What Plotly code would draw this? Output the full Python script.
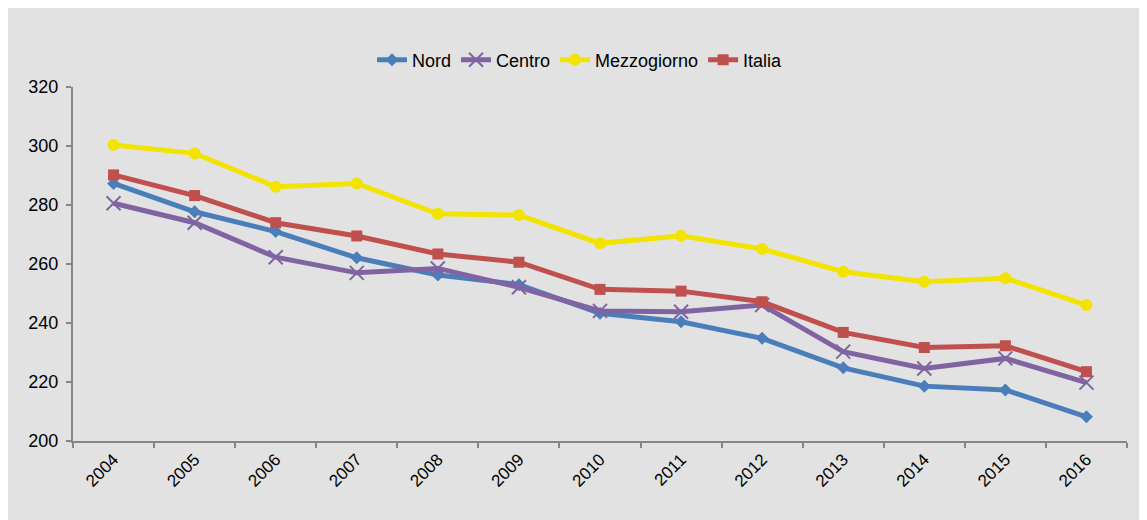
import plotly.graph_objects as go

years = ["2004", "2005", "2006", "2007", "2008", "2009", "2010",
         "2011", "2012", "2013", "2014", "2015", "2016"]
nord = [287.3, 277.7, 271.0, 262.1, 256.3, 253.0, 243.3, 240.4, 234.8, 224.8, 218.6, 217.3, 208.2]
centro = [280.6, 274.0, 262.3, 257.0, 258.5, 252.1, 244.1, 243.8, 246.1, 230.3, 224.6, 228.0, 219.8]
mezzogiorno = [300.3, 297.5, 286.2, 287.3, 277.0, 276.6, 267.0, 269.6, 265.1, 257.4, 254.0, 255.2, 246.1]
italia = [290.2, 283.2, 274.0, 269.5, 263.4, 260.6, 251.4, 250.8, 247.2, 236.8, 231.7, 232.3, 223.5]

series = [
    ("Nord", nord, "#4a7ebb", dict(symbol="diamond", size=10)),
    ("Centro", centro, "#8064a2", dict(symbol="x-thin", size=14, line=dict(width=2, color="#8064a2"))),
    ("Mezzogiorno", mezzogiorno, "#f3e300", dict(symbol="circle", size=12)),
    ("Italia", italia, "#c0504d", dict(symbol="square", size=11)),
]

fig = go.Figure()
for name, vals, color, mk in series:
    fig.add_trace(go.Scatter(
        x=years, y=vals, name=name, mode="lines+markers",
        line=dict(color=color, width=5),
        marker=dict(color=color, **mk),
    ))

grey = "#e2e2e2"
# page offset of 8px (body margin): figure spans page 8..1147
W, H = 1139, 512
L, R, T, B = 65, 20, 79, 79
pw, ph = W - L - R, H - T - B
fig.add_shape(type="rect", xref="paper", yref="paper",
              x0=-L / pw, x1=(1134 - L) / pw, y0=-B / ph - 0.1, y1=(H - T) / ph + 0.05,
              fillcolor=grey, line=dict(width=0), layer="below")

fig.update_layout(
    width=W, height=H,
    margin=dict(l=L, r=R, t=T, b=B),
    paper_bgcolor="white", plot_bgcolor=grey,
    font=dict(family="Liberation Sans, Arial, sans-serif", size=16, color="#000000"),
    showlegend=True,
    legend=dict(orientation="h", x=(580 - 8 - L) / pw, xanchor="center",
                y=(433 - 52) / ph, yanchor="middle",
                bgcolor="rgba(0,0,0,0)", font=dict(size=18)),
)
fig.update_xaxes(
    type="category", range=[-0.5, 12.5], tickson="boundaries",
    showline=True, linecolor="#868686", linewidth=2,
    ticks="outside", ticklen=5, tickcolor="#868686", tickwidth=2,
    tickangle=-45, showgrid=False, zeroline=False,
    tickfont=dict(size=17),
)
fig.update_yaxes(
    range=[200, 320], tickvals=[200, 220, 240, 260, 280, 300, 320],
    showline=True, linecolor="#868686", linewidth=2,
    ticks="outside", ticklen=5, tickcolor="#868686", tickwidth=2,
    ticklabelstandoff=4,
    showgrid=False, zeroline=False, tickfont=dict(size=18),
)

fig.write_html("out.html")
